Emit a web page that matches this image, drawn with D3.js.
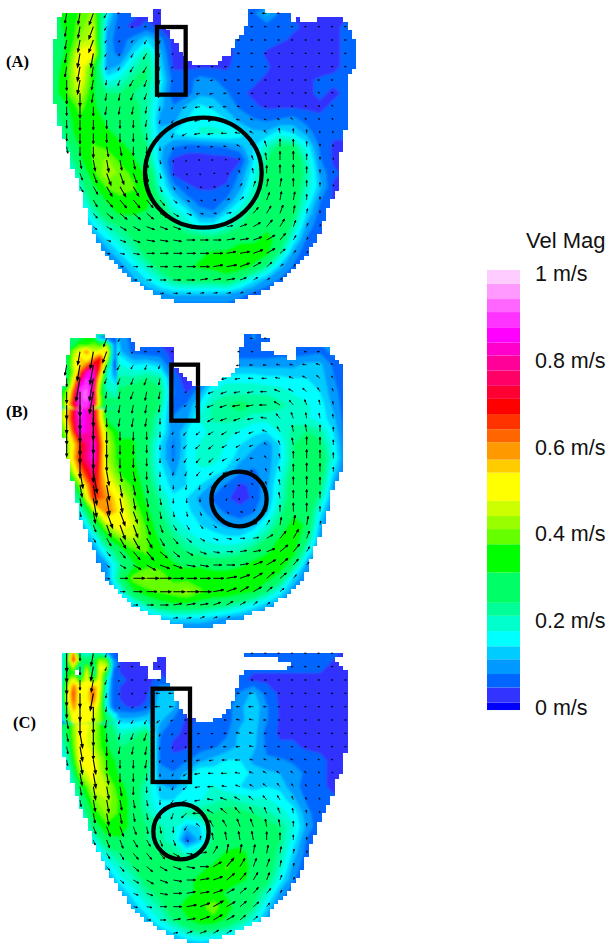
<!DOCTYPE html>
<html>
<head>
<meta charset="utf-8">
<script src="https://cdn.jsdelivr.net/npm/d3@7"></script>
<style>
  html, body { margin: 0; padding: 0; background: #fff; }
  svg { display: block; }
</style>
</head>
<body>
<script>
// legend bands, lower edge of each band in m/s
const bandBreaks = [0, .01, .045, .076, .11, .14, .175, .21, .24, .31, .375, .41, .44, .475, .54, .57, .61, .64, .675, .71, .74, .775, .81, .84, .875, .91, .94, .975];
const bandColors = ['#0000ff', '#3333ff', '#0066ff', '#0099ff', '#00ccff', '#00ffff', '#00ffcc', '#00ff99', '#00ff66', '#00ff00', '#66ff00', '#99ff00', '#ccff00', '#ffff00', '#ffcc00', '#ff9900', '#ff6600', '#ff3300', '#ff0000', '#ff0033', '#ff0066', '#ff0099', '#ff00cc', '#ff00ff', '#ff33ff', '#ff66ff', '#ff99ff', '#ffccff'];
const legendTicks = [0, .2, .4, .6, .8, 1];
const legendLabels = ['0 m/s', '0.2 m/s', '0.4 m/s', '0.6 m/s', '0.8 m/s', '1 m/s'];

// velocity magnitude in cm/s, rows run y=40..920, columns x=0..960 (panel units, step 40)
const velA = [
[28,28,34,38,42,16,6,5,4,4,4,4,4,4,4,5,7,12,7,4,4,4,4,4,4],
[24,26,34,39,45,12,5,4,5,4,4,4,4,4,4,5,6,6,6,5,4,4,4,5,5],
[22,24,32,42,46,9,6,9,14,9,3,3,3,3,4,6,6,6,5,4,3,4,4,5,5],
[22,24,33,50,50,10,6,14,22,12,3,3,3,3,3,6,6,4,3,3,3,3,4,5,5],
[24,26,36,52,36,9,12,20,24,14,4,4,4,4,4,6,6,5,3,3,3,3,4,5,5],
[26,28,36,50,34,16,19,24,24,16,6,6,9,8,6,6,5,4,3,3,4,5,5,5,5],
[26,28,37,46,32,24,24,24,22,14,5,6,10,10,8,5,4,3,3,3,4,5,4,5,5],
[20,22,30,40,32,28,26,26,22,12,8,12,15,13,10,7,5,4,4,4,4,4,5,5,5],
[12,20,28,36,34,30,28,26,22,10,10,14,17,17,14,10,8,7,8,9,6,5,5,5,5],
[8,16,26,36,36,32,30,28,22,12,14,16,18,18,18,16,12,12,16,14,10,5,5,5,5],
[6,12,22,32,38,36,32,30,24,12,8,6,6,7,8,10,14,20,26,25,16,7,4,4,4],
[4,8,18,30,38,42,36,32,26,12,4,3,3,3,3,4,14,24,29,30,20,8,4,4,4],
[4,6,14,24,36,44,40,36,30,16,4,3,3,3,3,8,16,26,29,30,22,10,5,4,4],
[4,4,10,20,30,38,40,38,34,18,9,5,4,4,5,10,19,27,29,29,20,12,4,3,3],
[4,4,6,16,26,32,36,36,34,24,15,9,6,6,8,14,22,27,29,28,18,8,4,3,3],
[4,4,4,10,20,28,32,32,30,28,20,16,9,8,14,20,26,29,30,26,14,6,4,3,3],
[4,4,4,6,14,20,24,26,28,28,26,20,16,16,20,24,28,30,30,22,10,5,4,3,3],
[4,4,4,4,8,14,20,24,28,28,28,28,28,26,28,30,30,33,29,16,7,4,3,3,3],
[4,4,4,4,6,9,14,20,26,28,30,30,30,32,32,34,35,33,22,10,5,4,3,3,3],
[4,4,4,4,4,6,9,14,20,26,28,30,32,33,35,35,30,22,12,7,4,4,3,3,3],
[4,4,4,4,4,4,6,10,14,19,24,26,26,26,28,22,15,10,7,4,4,3,3,3,3],
[4,4,4,4,4,4,4,6,8,10,12,12,12,12,12,9,7,5,4,4,3,3,3,3,3],
[4,4,4,4,4,4,4,4,4,5,6,6,6,6,6,5,4,4,4,4,3,3,3,3,3]
];
const velB = [
[20,20,30,34,36,30,10,6,5,4,4,4,4,4,4,5,8,6,4,4,5,8,8,4,4],
[20,20,34,46,62,40,12,6,5,5,4,4,4,4,4,5,5,5,6,6,6,7,8,5,4],
[20,20,36,56,70,30,18,14,15,12,4,4,4,4,7,10,10,10,10,10,12,12,7,4,4],
[20,20,28,84,82,18,22,22,24,22,6,3,3,12,16,16,16,15,15,14,14,13,8,4,4],
[20,20,40,90,80,22,25,27,30,25,8,4,10,18,20,20,20,20,19,17,16,14,9,5,4],
[20,20,50,90,78,26,27,28,28,24,6,8,15,22,24,26,24,24,22,20,18,16,10,5,4],
[20,20,55,88,78,30,28,30,28,19,8,10,18,22,22,22,19,19,19,20,18,16,12,5,4],
[20,20,45,86,80,42,30,30,27,18,8,14,16,19,19,17,15,14,18,22,24,22,14,5,4],
[20,20,40,66,86,46,32,32,26,14,7,14,18,20,17,14,12,9,14,24,28,26,16,6,4],
[20,20,40,70,86,44,34,32,26,14,7,15,19,19,16,12,9,9,14,24,30,28,18,6,4],
[20,20,30,60,78,48,36,34,26,16,10,14,17,16,13,8,7,9,16,26,30,28,14,5,4],
[6,6,16,42,72,54,42,36,28,18,12,14,14,10,7,4,5,10,18,28,30,26,10,4,4],
[4,4,8,28,68,60,50,38,30,22,15,14,10,7,5,3,5,10,19,28,30,22,8,4,4],
[4,4,6,16,40,62,52,42,33,24,17,15,12,9,7,6,7,12,22,30,30,16,5,4,4],
[4,4,4,8,25,44,54,46,36,27,20,16,14,12,10,9,12,18,26,34,30,12,4,4,4],
[4,4,4,6,14,30,40,44,38,30,24,20,17,16,15,15,18,24,32,36,26,9,4,4,4],
[4,4,4,4,8,18,28,36,38,33,28,24,22,20,20,22,26,30,36,34,18,7,4,4,4],
[4,4,4,4,6,10,22,30,36,36,32,30,30,28,28,30,34,36,36,26,10,5,4,4,4],
[4,4,4,4,4,8,26,40,42,40,36,36,36,36,36,36,36,34,28,14,7,4,4,4,4],
[4,4,4,4,4,6,16,30,36,38,40,43,38,36,36,34,32,24,16,8,5,4,4,4,4],
[4,4,4,4,4,4,8,14,22,28,30,30,28,26,24,20,16,12,8,5,4,4,4,4,4],
[4,4,4,4,4,4,5,7,9,12,14,14,14,12,10,9,7,5,4,4,4,4,4,4,4],
[4,4,4,4,4,4,4,4,5,6,6,6,6,6,5,5,4,4,4,4,4,4,4,4,4]
];
const velC = [
[12,12,66,24,44,12,5,4,4,4,4,4,4,4,4,5,5,5,5,5,5,5,5,4,4],
[14,14,55,28,50,12,4,4,4,4,4,4,4,4,4,5,5,5,5,5,5,5,4,4,4],
[14,18,50,35,42,14,5,4,4,5,4,4,4,4,4,5,4,4,4,4,4,4,4,4,4],
[16,22,44,50,62,14,4,4,4,12,14,4,4,4,6,8,12,6,4,4,4,4,4,4,4],
[12,22,38,50,55,16,5,4,5,14,12,4,4,4,6,10,14,8,4,4,4,4,4,4,4],
[8,20,30,52,46,28,12,12,14,12,7,4,5,6,6,10,13,8,4,4,4,4,4,4,4],
[5,14,28,52,44,30,20,22,26,8,5,4,6,5,7,12,13,6,4,4,4,4,4,4,4],
[5,10,24,52,44,32,24,26,28,7,4,4,6,7,9,12,12,7,5,5,4,4,4,4,4],
[5,8,18,50,50,36,28,28,28,7,5,7,10,12,14,14,10,8,8,7,6,5,4,4,4],
[4,6,12,42,52,38,30,28,24,9,8,12,17,16,18,16,13,12,11,9,7,5,4,4,4],
[4,5,10,30,46,44,33,28,20,12,10,14,16,18,15,14,12,14,13,9,6,5,4,4,4],
[4,4,8,22,40,44,36,28,20,14,14,15,17,20,22,20,19,18,16,12,7,5,5,4,4],
[4,4,6,16,34,42,36,28,22,16,20,22,24,24,26,26,24,22,19,16,9,5,4,4,4],
[4,4,4,10,26,36,36,28,24,22,19,12,14,24,26,28,28,26,24,18,10,5,4,4,4],
[4,4,4,6,17,28,30,28,24,22,19,5,12,24,28,30,30,28,24,16,7,4,4,4,4],
[4,4,4,4,10,20,24,26,26,24,24,19,22,28,32,32,30,28,22,13,6,4,4,4,4],
[4,4,4,4,6,14,20,24,26,28,28,28,30,32,38,33,30,28,20,10,5,4,4,4,4],
[4,4,4,4,4,8,16,20,26,28,30,30,32,34,36,32,30,26,16,8,4,4,4,4,4],
[4,4,4,4,4,5,10,16,22,26,28,30,32,34,30,28,26,20,10,5,4,4,4,4,4],
[4,4,4,4,4,4,6,12,17,22,28,34,36,40,34,28,24,14,6,4,4,4,4,4,4],
[4,4,4,4,4,4,4,8,12,18,24,30,36,36,30,24,18,9,5,4,4,4,4,4,4],
[4,4,4,4,4,4,4,5,8,10,14,19,22,20,18,14,9,5,4,4,4,4,4,4,4],
[4,4,4,4,4,4,4,4,4,5,6,8,9,8,7,6,4,4,4,4,4,4,4,4,4]
];

// finer reading of the inflow jet, rows y=40..240, columns x=60..220 (step 20)
const jetB = [
[25,25,30,30,32,33,12,8,5],
[25,28,30,38,36,40,36,42,10],
[25,30,42,50,62,46,50,58,10],
[25,28,44,56,48,58,70,48,8],
[25,28,46,54,62,76,68,34,7],
[25,28,42,62,82,84,62,22,10],
[25,28,48,72,88,84,50,20,12],
[25,28,55,84,90,82,42,18,18],
[30,40,64,90,92,80,38,22,20],
[30,44,68,90,92,80,42,24,24],
[30,50,70,90,90,78,42,26,26]
];
const jetC = [
[14,22,62,20,18,22,20,12,5],
[12,30,70,35,26,30,42,38,8],
[12,28,46,20,42,22,50,46,8],
[12,30,36,19,50,20,50,30,6],
[12,36,50,35,48,34,50,20,5],
[14,40,62,50,50,60,50,18,5],
[14,44,66,48,52,64,46,16,5],
[12,44,64,48,52,62,44,16,5],
[10,38,60,50,52,55,42,16,6],
[8,32,54,52,52,48,42,24,14],
[7,30,52,52,50,46,42,28,22]
];

// flow direction in tens of degrees, 0 = right, 9 = down, 18 = left, 27 = up
const dirA = [
[10,10,10,10,11,12,18,18,18,18,18,18,18,18,18,18,18,18,18,18,18,18,18,18,18],
[10,10,10,10,11,12,14,16,18,18,18,18,18,18,18,18,18,18,18,18,18,18,18,18,18],
[10,10,10,10,11,12,12,13,12,10,18,18,18,18,18,18,18,18,18,18,18,18,18,18,18],
[10,10,10,10,10,12,12,12,12,11,14,18,18,18,18,18,18,18,18,18,18,18,18,18,18],
[9,9,10,10,10,11,12,12,12,11,14,16,18,18,18,18,18,18,18,18,18,18,18,18,18],
[9,9,9,10,10,10,11,12,11,11,14,16,17,17,18,18,18,18,18,18,18,18,18,18,18],
[9,9,9,9,10,10,10,11,11,11,13,16,17,17,18,18,18,19,19,20,20,21,21,21,21],
[9,9,9,9,9,10,10,10,10,10,13,16,17,17,18,19,19,19,20,20,21,21,22,22,22],
[9,9,9,9,9,9,9,9,10,10,12,16,17,17,18,19,20,20,21,22,23,23,23,23,23],
[8,9,9,9,9,9,9,9,9,10,11,15,17,17,18,19,21,23,26,27,27,26,25,24,24],
[8,8,8,9,9,8,8,9,9,9,10,14,18,18,19,21,23,25,27,27,27,27,26,25,25],
[8,8,8,8,8,8,8,8,8,8,9,12,18,18,20,23,25,26,27,27,27,27,27,26,26],
[7,8,7,7,7,7,7,7,8,8,8,8,8,0,2,25,26,27,27,27,27,27,27,27,27],
[7,7,7,6,6,6,6,6,7,7,6,5,3,1,33,30,29,28,28,27,27,27,27,27,27],
[6,6,6,6,6,5,5,5,5,5,4,3,2,0,34,32,30,29,28,28,27,27,27,27,27],
[6,6,6,5,5,4,4,4,4,3,3,2,1,0,35,33,31,30,29,28,28,27,27,27,27],
[5,5,5,4,4,3,3,3,2,2,2,1,0,0,35,34,33,31,30,29,29,28,27,27,27],
[5,5,5,4,3,2,2,2,1,1,1,0,0,0,35,35,34,33,31,30,29,28,27,27,27],
[4,4,4,3,2,1,1,1,0,0,0,0,0,0,35,35,34,33,32,31,30,29,28,27,27],
[3,3,3,2,1,1,0,0,0,0,0,0,0,35,35,34,33,32,32,31,30,29,28,27,27],
[2,2,2,2,1,1,0,0,0,0,0,0,35,35,35,34,33,33,32,31,31,30,29,28,28],
[1,1,1,1,1,0,0,0,0,0,0,0,35,35,35,34,34,33,33,32,31,30,29,28,28],
[0,0,0,0,0,0,0,0,0,0,0,0,0,0,0,0,0,0,0,0,0,0,0,0,0]
];
const dirB = [
[10,10,10,10,10,11,12,18,18,18,18,18,18,18,18,18,18,18,18,18,18,18,18,18,18],
[10,10,10,10,10,11,12,14,18,18,18,18,18,18,18,18,18,18,18,18,18,18,18,18,18],
[9,9,10,10,10,11,12,12,11,11,18,18,18,18,17,17,18,18,19,19,19,20,21,21,21],
[9,9,9,10,10,11,11,11,11,10,15,18,18,17,17,17,18,18,19,20,21,22,23,23,23],
[9,9,9,9,10,10,10,11,10,10,14,15,16,16,16,17,17,18,20,21,22,24,25,25,25],
[9,9,9,9,9,10,10,10,10,10,13,15,16,16,16,17,17,18,21,23,25,26,26,26,26],
[9,9,9,9,9,9,10,10,10,9,12,14,15,15,16,16,17,19,23,25,26,26,26,26,26],
[9,9,9,9,9,9,9,9,9,9,11,13,14,15,15,16,16,20,24,26,26,27,27,27,27],
[9,9,9,9,9,9,9,9,9,9,11,13,14,14,15,15,16,22,25,26,27,27,27,27,27],
[8,8,9,9,9,9,9,9,9,9,10,12,13,14,15,15,18,23,26,27,27,27,27,27,27],
[8,8,8,8,8,8,8,8,9,9,10,11,13,14,15,16,20,25,26,27,27,27,27,27,27],
[8,8,8,8,8,8,8,8,8,9,9,10,10,12,14,16,22,25,26,27,27,27,27,27,27],
[8,8,8,8,8,8,8,8,8,8,9,9,9,9,10,13,24,26,26,27,27,27,27,27,27],
[8,8,8,8,8,7,7,7,8,8,8,8,7,6,4,1,30,27,27,27,27,27,27,27,27],
[7,7,7,7,7,7,7,7,7,7,6,6,5,4,2,0,33,30,28,28,28,28,28,28,28],
[6,6,6,6,6,6,6,6,6,6,5,4,3,2,1,0,35,33,31,30,29,28,28,28,28],
[6,6,6,5,5,5,5,5,5,4,4,3,2,1,0,35,35,34,32,31,30,29,29,29,29],
[5,5,5,4,4,4,3,3,3,2,2,1,1,0,0,35,34,33,32,31,31,30,30,30,30],
[4,4,3,3,2,1,0,0,0,0,0,0,0,0,35,34,33,32,32,31,31,31,30,30,30],
[2,2,2,1,1,1,0,0,0,0,0,0,0,35,34,33,33,32,32,31,31,31,31,31,31],
[1,1,1,1,1,0,0,0,0,0,35,35,35,34,33,33,32,32,32,31,31,31,31,31,31],
[0,0,0,0,0,0,0,0,0,0,35,35,34,34,33,33,32,32,32,31,31,31,31,31,31],
[0,0,0,0,0,0,0,0,0,0,0,0,0,0,0,0,0,0,0,0,0,0,0,0,0]
];
const dirC = [
[9,9,9,9,10,11,18,18,18,18,18,18,18,18,18,18,18,18,18,18,18,18,18,18,18],
[9,9,9,9,10,11,18,18,18,18,18,18,18,18,18,18,18,18,18,18,18,18,18,18,18],
[9,9,9,9,10,11,14,18,18,18,18,18,18,18,18,18,18,18,18,18,18,18,18,18,18],
[9,9,9,9,10,10,14,16,18,18,18,18,18,18,18,18,18,18,18,18,18,18,18,18,18],
[8,8,9,9,9,10,12,14,16,18,18,18,18,18,18,18,18,18,18,18,18,18,18,18,18],
[8,8,8,9,9,10,11,12,12,14,16,18,18,18,18,19,19,18,18,18,18,18,18,18,18],
[8,8,8,8,9,9,10,11,11,10,14,17,17,17,18,19,19,18,18,18,18,18,18,18,18],
[8,8,8,8,9,9,10,10,10,10,13,16,17,17,18,18,19,19,18,18,18,18,18,18,18],
[8,8,8,8,8,9,9,9,10,10,12,15,17,17,18,18,19,20,20,20,20,20,20,20,20],
[8,8,8,8,8,8,9,9,9,9,11,14,17,18,18,19,20,21,21,22,22,22,22,22,22],
[8,8,8,8,8,8,8,9,9,9,11,14,17,18,19,20,21,22,23,24,24,24,24,24,24],
[8,8,8,8,8,8,8,8,8,9,12,15,17,19,20,21,22,23,24,25,25,25,25,25,25],
[7,7,7,8,8,8,8,8,8,9,11,14,18,21,22,23,24,25,25,26,26,26,26,26,26],
[7,7,7,7,7,7,7,7,8,8,9,12,22,24,24,25,25,26,26,27,27,27,27,27,27],
[7,7,7,7,7,7,7,6,6,7,7,4,28,26,26,26,26,27,27,27,27,27,27,27,27],
[6,6,6,6,6,6,6,5,5,5,3,1,35,30,28,28,28,28,28,28,28,28,28,28,28],
[6,6,6,6,5,5,5,4,4,3,2,1,0,33,31,30,29,29,28,28,28,28,28,28,28],
[5,5,5,5,5,4,4,3,3,2,1,0,35,34,32,31,30,29,29,29,29,29,29,29,29],
[4,4,4,4,4,3,3,2,2,1,0,35,35,34,33,32,31,31,30,30,30,30,30,30,30],
[3,3,3,3,3,2,2,1,1,0,0,35,34,33,33,32,32,31,31,31,31,31,31,31,31],
[2,2,2,2,2,1,1,1,0,0,35,35,34,33,33,32,32,32,31,31,31,31,31,31,31],
[1,1,1,1,1,1,0,0,0,35,35,34,34,33,33,33,32,32,32,31,31,31,31,31,31],
[0,0,0,0,0,0,0,0,0,0,0,0,0,0,0,0,0,0,0,0,0,0,0,0,0]
];

// boundary of the measured region in panel units
const outlineA = [[60,38],[200,38],[210,25],[215,38],[275,38],[285,55],[340,60],[345,25],[365,25],[365,80],[385,90],[400,120],[415,140],[430,170],[460,190],[530,190],[570,160],[595,110],[625,75],[630,25],[670,30],[680,40],[745,40],[760,70],[780,50],[795,70],[850,50],[920,60],[945,130],[945,200],[920,240],[920,380],[905,440],[895,560],[860,640],[830,720],[790,780],[740,830],[680,870],[580,905],[500,910],[430,912],[340,880],[260,830],[195,760],[145,670],[130,590],[100,510],[60,380],[45,305],[45,120]];
const outlineB = [[90,45],[170,45],[175,32],[260,35],[285,50],[285,72],[320,70],[400,58],[405,120],[430,150],[460,180],[520,180],[570,150],[595,120],[600,70],[615,50],[600,35],[640,28],[680,35],[690,55],[650,60],[680,80],[730,90],[765,110],[770,70],[800,60],[860,60],[880,90],[905,120],[915,200],[915,430],[880,480],[875,520],[850,600],[820,680],[790,760],[740,810],[680,850],[600,880],[490,910],[430,905],[340,870],[260,830],[200,770],[155,660],[115,560],[100,480],[80,380],[62,300],[70,200],[80,120]];
const outlineC = [[60,40],[225,40],[240,60],[300,65],[305,75],[330,90],[350,60],[370,45],[380,130],[395,145],[415,200],[440,225],[470,245],[520,245],[570,210],[600,125],[610,90],[650,92],[730,90],[755,70],[700,55],[605,50],[605,40],[915,40],[880,60],[925,100],[925,300],[905,400],[880,430],[880,470],[850,520],[815,610],[780,700],[740,760],[680,830],[600,870],[500,905],[440,905],[360,870],[280,810],[220,720],[160,600],[100,440],[70,340],[62,200]];
const holesC = [[[330,95],[362,95],[362,118],[330,118]], [[98,95],[122,95],[122,110],[98,110]]];

// annotation boxes [x0,y0,x1,y1] and ellipses [cx,cy,rx,ry] in panel units
const boxA = [351, 81, 437, 284], boxB = [394, 119, 474, 287], boxC = [338, 146, 450, 426];
const ringA = [490, 518, 175, 165], ringB = [597, 522, 83, 82], ringC = [423, 575, 83, 83];

const panelNames = ['(A)', '(B)', '(C)'];
const panelLabelX = [6, 6, 13], panelLabelY = [67, 417, 728];
const panelTop = [0, 325, 640];

const svg = d3.select('body').append('svg')
  .attr('width', 612).attr('height', 950)
  .style('background', '#fff');

// panel units are the 3x crop pixels of the figure
const x = d3.scaleLinear().domain([0, 990]).range([40, 370]);
const y = d3.scaleLinear().domain([0, 930]).range([0, 310]);
const xCols = d3.range(0, 961, 40), yRows = d3.range(40, 921, 40);
const jetCols = d3.range(60, 221, 20), jetRows = d3.range(40, 241, 20);
const meshStep = 13;
const arrowLen = d3.scaleLinear().domain([0, 1]).range([1, 27]);
const arrowWidth = d3.scaleLinear().domain([0, .5]).range([.55, 1.15]).clamp(true);
const bandColor = d3.scaleThreshold().domain(bandBreaks.slice(1)).range(bandColors);

const defs = svg.append('defs');
defs.append('filter').attr('id', 'soft')
  .append('feGaussianBlur').attr('stdDeviation', 1);

function inside(px, py, outline, holes) {
  if (!d3.polygonContains(outline, [px, py])) return false;
  return !holes.some(h => d3.polygonContains(h, [px, py]));
}

// fills one grid as stacked bands, x0/y0/step place it in panel units
function drawBands(g, grid, x0, y0, step) {
  const contours = d3.contours()
    .size([grid[0].length, grid.length])
    .thresholds(bandBreaks)(grid.flat().map(v => v / 100));
  const proj = d3.geoTransform({
    point: function (cx, cy) {
      this.stream.point(x(x0 + (cx - .5) * step), y(y0 + (cy - .5) * step));
    }
  });
  g.append('g').selectAll('path').data(contours).join('path')
    .attr('d', d3.geoPath(proj))
    .attr('fill', d => bandColor(d.value));
}

function drawPanel(i, vel, jet, dir, outline, holes, box, ring) {
  const id = 'p' + i;
  const g = svg.append('g').attr('id', id).attr('transform', `translate(0,${panelTop[i]})`);

  // staircase mask, one cell per mesh element
  const cells = [];
  for (let my = 0; my < 930; my += meshStep) {
    for (let mx = 0; mx < 990; mx += meshStep) {
      if (inside(mx + meshStep / 2, my + meshStep / 2, outline, holes)) cells.push([mx, my]);
    }
  }
  defs.append('clipPath').attr('id', 'clip' + id)
    .selectAll('rect').data(cells).join('rect')
    .attr('x', d => Math.round(x(d[0])))
    .attr('y', d => Math.round(y(d[1])))
    .attr('width', d => Math.round(x(d[0] + meshStep)) - Math.round(x(d[0])))
    .attr('height', d => Math.round(y(d[1] + meshStep)) - Math.round(y(d[1])));

  const field = g.append('g').attr('clip-path', `url(#clip${id})`)
    .append('g').attr('filter', 'url(#soft)');
  drawBands(field, vel, xCols[0], yRows[0], 40);
  if (jet) drawBands(field, jet, jetCols[0], jetRows[0], 20);

  // velocity arrows
  const arrows = [];
  yRows.forEach((ry, r) => xCols.forEach((cx, c) => {
    if (inside(cx, ry, outline, holes)) arrows.push({ cx, ry, v: vel[r][c] / 100, a: dir[r][c] * Math.PI / 18 });
  }));
  g.append('g').selectAll('path').data(arrows).join('path')
    .attr('d', d => {
      const len = arrowLen(d.v), px = x(d.cx), py = y(d.ry);
      const ux = Math.cos(d.a), uy = Math.sin(d.a);
      const ex = px + ux * len, ey = py + uy * len;
      const h = Math.min(3, .8 + len * .15), w = h * .4;
      const p = d3.path();
      p.moveTo(px, py); p.lineTo(ex, ey);
      p.moveTo(ex, ey);
      p.lineTo(ex - ux * h - uy * w, ey - uy * h + ux * w);
      p.lineTo(ex - ux * h + uy * w, ey - uy * h - ux * w);
      p.closePath();
      return p.toString();
    })
    .attr('fill', '#000')
    .attr('stroke', '#000')
    .attr('stroke-width', d => arrowWidth(d.v));

  // region of interest marks
  g.append('rect')
    .attr('x', x(box[0])).attr('y', y(box[1]))
    .attr('width', x(box[2]) - x(box[0])).attr('height', y(box[3]) - y(box[1]))
    .attr('fill', 'none').attr('stroke', '#000').attr('stroke-width', 4.3);
  g.append('ellipse')
    .attr('cx', x(ring[0])).attr('cy', y(ring[1]))
    .attr('rx', x(ring[2]) - x(0)).attr('ry', y(ring[3]) - y(0))
    .attr('fill', 'none').attr('stroke', '#000').attr('stroke-width', 4.3);

  svg.append('text')
    .attr('x', panelLabelX[i]).attr('y', panelLabelY[i])
    .attr('font-family', '"Liberation Serif", serif')
    .attr('font-weight', 'bold').attr('font-size', 16.5)
    .text(panelNames[i]);
}

drawPanel(0, velA, null, dirA, outlineA, [], boxA, ringA);
drawPanel(1, velB, jetB, dirB, outlineB, [], boxB, ringB);
drawPanel(2, velC, jetC, dirC, outlineC, holesC, boxC, ringC);

// colour legend
const legendY = d3.scaleLinear().domain([0, 1]).range([707, 273]);
const legend = svg.append('g').attr('id', 'legend');
const bandTop = (d, i) => i + 1 < bandBreaks.length ? bandBreaks[i + 1] : 1.007;
legend.selectAll('rect').data(bandBreaks).join('rect')
  .attr('x', 487).attr('width', 33)
  .attr('y', (d, i) => legendY(bandTop(d, i)))
  .attr('height', (d, i) => legendY(i == 0 ? -.007 : d) - legendY(bandTop(d, i)))
  .attr('fill', (d, i) => bandColors[i]);
legend.selectAll('text').data(legendTicks).join('text')
  .attr('x', 535)
  .attr('y', d => legendY(d) + 8)
  .attr('font-family', '"Liberation Sans", Arial, sans-serif')
  .attr('font-size', 21.5)
  .attr('fill', '#111')
  .text((d, i) => legendLabels[i]);
legend.append('text')
  .attr('x', 526).attr('y', 248)
  .attr('font-family', '"Liberation Sans", Arial, sans-serif')
  .attr('font-size', 22)
  .attr('fill', '#111')
  .text('Vel Mag');
</script>
</body>
</html>
